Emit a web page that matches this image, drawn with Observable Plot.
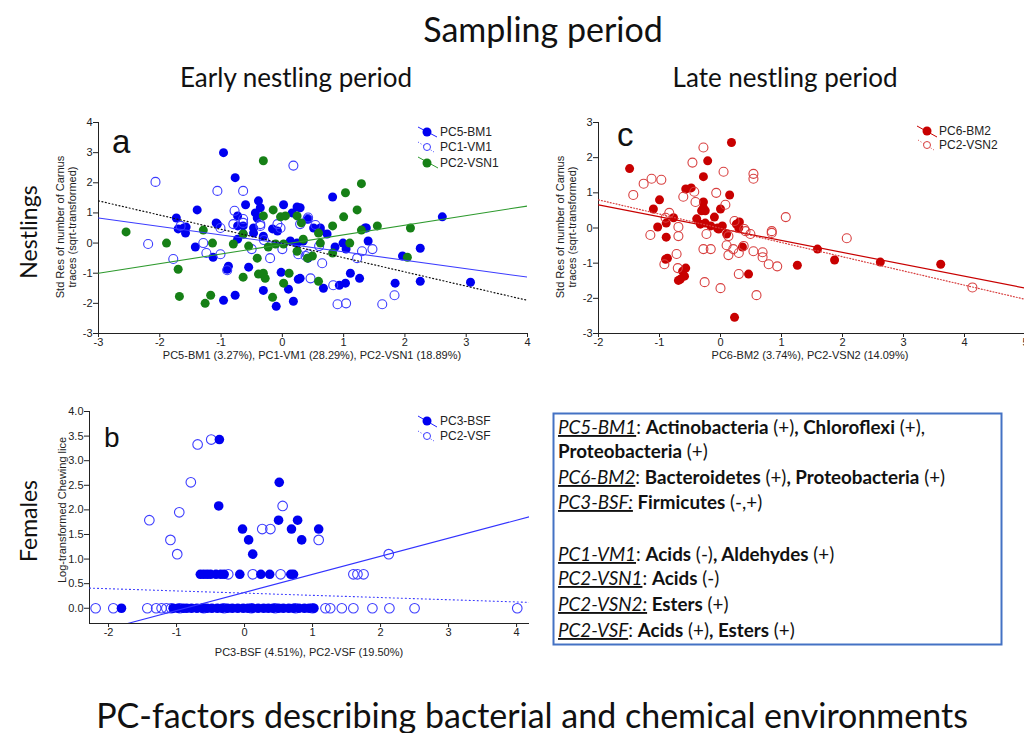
<!DOCTYPE html>
<html><head><meta charset="utf-8">
<script src="https://cdn.jsdelivr.net/npm/d3@7"></script>
<script src="https://cdn.jsdelivr.net/npm/@observablehq/plot@0.6"></script>
<style>
html,body{margin:0;padding:0;background:#fff;}
#page{position:relative;width:1024px;height:733px;overflow:hidden;background:#fff;}
.panel{position:absolute;width:520px;}
.panel svg{max-width:none !important;}
#overlay{position:absolute;left:0;top:0;pointer-events:none;}
.ttl{font-family:Lato,'Open Sans',sans-serif;fill:#111;}
.ax{font-family:'Liberation Sans',Arial,sans-serif;fill:#222;font-size:11px;}
.lg{font-family:'Liberation Sans',Arial,sans-serif;fill:#222;font-size:12px;}
.bx{font-family:Lato,sans-serif;font-size:18.8px;fill:#111;}
.pc{font-style:italic;text-decoration:underline;}
.b{font-weight:bold;}
</style></head><body>
<div id="page">
<div id="pa" class="panel" style="left:40px;top:100px"></div>
<div id="pc" class="panel" style="left:540px;top:100px"></div>
<div id="pb" class="panel" style="left:30px;top:390px"></div>
<svg id="overlay" width="1024" height="733">
  <text class="ttl" x="543" y="42" text-anchor="middle" font-size="34">Sampling period</text>
  <text class="ttl" x="296" y="87" text-anchor="middle" font-size="26">Early nestling period</text>
  <text class="ttl" x="785" y="87" text-anchor="middle" font-size="26">Late nestling period</text>
  <text class="ttl" transform="translate(37,232) rotate(-90)" text-anchor="middle" font-size="23">Nestlings</text>
  <text class="ttl" transform="translate(37,521) rotate(-90)" text-anchor="middle" font-size="23">Females</text>
  <text class="ttl" x="532" y="728" text-anchor="middle" font-size="34">PC-factors describing bacterial and chemical environments</text>

  <text class="ax" transform="translate(64,227) rotate(-90)" text-anchor="middle">Std Res of number of Carnus</text>
  <text class="ax" transform="translate(76,227) rotate(-90)" text-anchor="middle">traces (sqrt-transformed)</text>
  <text class="ax" transform="translate(564,227) rotate(-90)" text-anchor="middle">Std Res of number of Carnus</text>
  <text class="ax" transform="translate(576,227) rotate(-90)" text-anchor="middle">traces (sqrt-transformed)</text>
  <text class="ax" transform="translate(66,510) rotate(-90)" text-anchor="middle">Log-transformed Chewing lice</text>
  <text class="ax" x="312" y="359" text-anchor="middle" font-size="10.5">PC5-BM1 (3.27%), PC1-VM1 (28.29%), PC2-VSN1 (18.89%)</text>
  <text class="ax" x="810" y="359" text-anchor="middle" font-size="10.5">PC6-BM2 (3.74%), PC2-VSN2 (14.09%)</text>
  <text class="ax" x="309" y="656" text-anchor="middle" font-size="10.5">PC3-BSF (4.51%), PC2-VSF (19.50%)</text>

  <text font-family="'Liberation Sans',Arial" font-size="33" x="112" y="153" fill="#111">a</text>
  <text font-family="'Liberation Sans',Arial" font-size="33" x="617" y="146" fill="#111">c</text>
  <text font-family="'Liberation Sans',Arial" font-size="28" x="104" y="447" fill="#111">b</text>

  <!-- legend a -->
  <line x1="418" y1="127" x2="437" y2="137" stroke="#2020ff" stroke-width="1"/>
  <circle cx="427" cy="132" r="4.5" fill="#0000f0"/>
  <text class="lg" x="440" y="136">PC5-BM1</text>
  <line x1="418" y1="142" x2="434" y2="152" stroke="#3c3cff" stroke-width="1" stroke-dasharray="1 2"/>
  <circle cx="427" cy="147" r="3.5" fill="#fff" stroke="#3c3cff" stroke-width="1"/>
  <text class="lg" x="440" y="151">PC1-VM1</text>
  <line x1="418" y1="157" x2="438" y2="168" stroke="#2e9a2e" stroke-width="1"/>
  <circle cx="427" cy="163" r="4.5" fill="#168016"/>
  <text class="lg" x="440" y="167">PC2-VSN1</text>
  <!-- legend c -->
  <line x1="917" y1="126" x2="937" y2="137" stroke="#c80000" stroke-width="1"/>
  <circle cx="927" cy="131" r="4.5" fill="#c80000"/>
  <text class="lg" x="939" y="135">PC6-BM2</text>
  <line x1="918" y1="140" x2="934" y2="150" stroke="#d84040" stroke-width="1" stroke-dasharray="1 2"/>
  <circle cx="927" cy="145" r="3.5" fill="#fff" stroke="#d84040" stroke-width="1"/>
  <text class="lg" x="939" y="149">PC2-VSN2</text>
  <!-- legend b -->
  <line x1="418" y1="416" x2="437" y2="427" stroke="#2020ff" stroke-width="1"/>
  <circle cx="427" cy="421" r="4.5" fill="#0000f0"/>
  <text class="lg" x="440" y="425">PC3-BSF</text>
  <line x1="418" y1="431" x2="434" y2="441" stroke="#3c3cff" stroke-width="1" stroke-dasharray="1 2"/>
  <circle cx="427" cy="436" r="3.5" fill="#fff" stroke="#3c3cff" stroke-width="1"/>
  <text class="lg" x="440" y="440">PC2-VSF</text>

  <!-- description box -->
  <rect x="553.5" y="413.5" width="448" height="231" fill="none" stroke="#4472c4" stroke-width="2"/>
  <text class="bx" x="558" y="434"><tspan class="pc">PC5-BM1</tspan>: <tspan class="b">Actinobacteria</tspan> (+)<tspan class="b">, Chloroflexi</tspan> (+),</text>
  <text class="bx" x="558" y="458"><tspan class="b">Proteobacteria</tspan> (+)</text>
  <text class="bx" x="558" y="484"><tspan class="pc">PC6-BM2</tspan>: <tspan class="b">Bacteroidetes</tspan> (+)<tspan class="b">, Proteobacteria</tspan> (+)</text>
  <text class="bx" x="558" y="509"><tspan class="pc">PC3-BSF:</tspan><tspan class="b"> Firmicutes</tspan> (-,+)</text>
  <text class="bx" x="558" y="561"><tspan class="pc">PC1-VM1</tspan>: <tspan class="b">Acids</tspan> (-)<tspan class="b">, Aldehydes</tspan> (+)</text>
  <text class="bx" x="558" y="585"><tspan class="pc">PC2-VSN1</tspan>: <tspan class="b">Acids</tspan> (-)</text>
  <text class="bx" x="558" y="611"><tspan class="pc">PC2-VSN2:</tspan><tspan class="b"> Esters</tspan> (+)</text>
  <text class="bx" x="558" y="637"><tspan class="pc">PC2-VSF</tspan>: <tspan class="b">Acids</tspan> (+)<tspan class="b">, Esters</tspan> (+)</text>
</svg>
</div>
<script>
// ---------- Panel a: early nestling period ----------
const a_xTicks = [-3,-2,-1,0,1,2,3,4];
const a_yTicks = [-3,-2,-1,0,1,2,3,4];
const a_BM1 = [[-0.96,3.0],[-0.77,2.17],[-1.39,1.1],[-1.73,0.83],[-1.57,0.53],[-1.08,0.67],[-0.6,1.27],[-0.39,1.4],[-0.36,1.17],[-0.44,1.0],[-0.73,0.9],[0.02,1.27],[0.16,1.0],[0.24,1.2],[0.82,1.53],[0.29,1.17],[1.35,0.5],[2.61,0.87],[0.62,0.5],[1.37,0.5],[1.40,0.07],[2.25,-0.17],[1.96,-0.43],[1.04,-0.2],[0.99,0.0],[0.86,-0.13],[0.62,0.4],[0.73,0.3],[0.51,0.5],[1.11,-1.0],[1.26,-1.17],[1.84,-1.33],[2.25,-1.27],[3.07,-1.3],[1.03,-1.33],[0.93,-1.4],[0.67,-1.5],[0.29,-1.17],[-0.96,-1.9],[-0.77,-1.73],[-1.7,0.47],[-1.58,0.33],[-1.61,0.5],[-1.42,-0.13],[-1.13,-0.47],[-0.88,-0.77],[-0.9,-0.87],[-0.55,-0.8],[-0.73,0.13],[-0.64,0.3],[-0.47,0.33],[-0.31,0.23],[-0.16,0.47],[-0.08,0.4],[0.13,0.07],[0.24,0.0],[0.34,0.07],[0.42,-0.5],[-0.02,-0.97],[0.1,-1.53],[0.26,-1.2],[-0.31,-1.57],[-0.1,-2.1],[0.18,-1.93],[-0.47,0.5],[-0.64,0.57],[-0.41,0.83],[-0.73,0.57],[0.42,0.8],[-1.06,0.63]];
const a_VM1 = [[0.18,2.57],[-2.07,2.03],[-1.06,1.73],[-0.64,1.73],[0.41,0.8],[0.54,0.6],[1.3,-0.27],[1.47,-0.2],[1.22,-0.5],[0.29,0.63],[0.42,-0.37],[0.65,-0.67],[1.83,-1.73],[1.63,-2.03],[0.9,-2.03],[1.04,-2.0],[0.83,-1.4],[0.46,-1.17],[-2.19,-0.03],[-1.78,-0.53],[-1.29,0.0],[-1.24,-0.33],[-1.01,-0.37],[-0.8,0.63],[-0.64,0.67],[-0.36,0.57],[-0.2,-0.5],[-0.03,0.5],[0.26,-0.37],[0.38,-0.43],[-0.78,1.07],[-0.64,0.8],[-0.08,0.63],[-0.36,0.63],[0.42,0.85],[-1.66,0.57],[-1.01,0.5],[-0.9,-0.9],[-0.3,0.1],[0.0,-0.2],[0.6,-0.1],[-0.5,-0.2]];
const a_VSN1 = [[-0.31,2.73],[-0.15,1.1],[-0.31,0.9],[-0.03,0.87],[0.05,0.9],[0.31,0.67],[1.03,1.67],[1.29,1.97],[1.22,1.1],[1.0,0.87],[0.82,0.57],[1.55,0.57],[2.09,0.5],[1.29,0.43],[2.04,-0.47],[0.59,0.33],[0.62,0.0],[0.49,-0.43],[0.41,-0.5],[0.82,-0.33],[0.59,-1.27],[-2.55,0.37],[-1.89,0.0],[-1.7,-0.87],[-1.68,-1.77],[-1.26,-2.0],[-1.17,-1.73],[-1.14,0.0],[-0.64,-1.13],[-0.41,-0.5],[-0.8,-0.03],[-0.55,-0.1],[-0.64,0.3],[-0.23,-0.13],[0.02,-0.03],[-0.11,-0.03],[0.34,0.13],[0.24,-0.27],[-0.39,-1.03],[-0.31,-1.0],[-0.28,-1.17],[0.11,-1.0],[0.02,-1.33],[-0.16,-1.8],[0.24,0.9],[-1.29,0.43],[1.1,0.0]];
const a_fitBM1 = [[-3,0.83],[4,-1.13]];
const a_fitVM1 = [[-3,1.4],[4,-1.9]];
const a_fitVSN1 = [[-3,-1.0],[4,1.23]];

// ---------- Panel c: late nestling period ----------
const c_xTicks = [-2,-1,0,1,2,3,4,5];
const c_yTicks = [-3,-2,-1,0,1,2,3];
const c_BM2 = [[-1.49,1.69],[-1.0,0.8],[-1.1,0.54],[-0.89,0.14],[-0.77,0.29],[-1.03,0.03],[0.18,2.43],[-0.21,1.91],[-0.28,1.46],[-0.57,1.11],[-0.48,1.14],[0.15,0.94],[-0.28,0.74],[-0.28,0.57],[-0.31,0.49],[-0.25,0.49],[0.0,0.54],[-0.1,0.31],[-0.39,0.26],[-0.33,0.11],[-0.25,0.14],[-0.16,0.06],[-0.05,0.0],[0.03,0.06],[0.26,0.11],[0.31,0.17],[-0.89,-0.26],[-0.03,-0.03],[0.1,-0.17],[0.3,0.0],[0.36,-0.54],[1.26,-1.06],[-0.87,-0.86],[-0.9,-0.89],[-0.57,-1.14],[-0.62,-1.23],[-0.59,-1.37],[-0.66,-1.46],[-0.69,-1.49],[0.46,-1.31],[0.23,-2.54],[1.59,-0.6],[1.87,-0.91],[2.62,-0.97],[3.61,-1.03]];
const c_VSN2 = [[-1.43,0.94],[-1.26,1.26],[-1.13,1.4],[-0.97,1.37],[-0.84,0.43],[-0.9,0.29],[-0.69,0.03],[-0.28,2.29],[-0.46,1.86],[0.05,1.6],[0.54,1.54],[0.54,1.4],[-0.43,1.03],[-0.61,0.89],[-0.07,1.0],[-0.41,0.74],[0.08,0.66],[0.23,0.2],[0.39,-0.03],[0.84,-0.09],[1.07,0.31],[-1.15,-0.2],[-0.69,-0.23],[-0.23,-0.17],[0.13,-0.23],[0.41,-0.09],[0.49,-0.17],[0.84,-0.14],[0.1,-0.49],[0.21,-0.6],[0.38,-0.51],[-0.28,-0.6],[-0.16,-0.6],[0.13,-0.77],[0.3,-0.71],[0.54,-0.66],[0.69,-0.69],[0.69,-0.83],[0.79,-1.03],[0.93,-1.09],[-0.72,-0.74],[-0.92,-1.03],[-0.7,-1.14],[-0.26,-1.54],[0.0,-1.71],[0.3,-1.31],[0.59,-1.91],[2.07,-0.29],[4.13,-1.69]];
const c_fitBM2 = [[-2,0.66],[5,-1.71]];
const c_fitVSN2 = [[-2,0.8],[5,-2.03]];

// ---------- Panel b: females ----------
const b_xTicks = [-2,-1,0,1,2,3,4];
const b_yTicks = [0,0.5,1,1.5,2,2.5,3,3.5,4];
const b_BSF = [[-1.81,0],[-1.05,0],[-0.98,0],[-0.9,0],[-0.85,0],[-0.78,0],[-0.7,0],[-0.62,0],[-0.55,0],[-0.48,0],[-0.4,0],[-0.33,0],[-0.25,0],[-0.18,0],[-0.1,0],[-0.02,0],[0.05,0],[0.12,0],[0.2,0],[0.28,0],[0.35,0],[0.42,0],[0.5,0],[0.57,0],[0.65,0],[0.72,0],[0.8,0],[0.88,0],[0.95,0],[1.02,0],
  [-0.65,0.69],[-0.6,0.69],[-0.55,0.69],[-0.5,0.69],[-0.42,0.69],[-0.35,0.69],[-0.3,0.69],[-0.07,0.69],[0.24,0.69],[0.37,0.69],[0.68,0.69],[0.72,0.69],
  [-0.37,3.43],[-0.38,2.08],[-0.03,1.61],[0.06,1.39],[0.12,1.1],[0.51,2.56],[0.5,1.79],[0.69,1.61],[0.78,1.79],[0.84,1.39],[1.09,1.61]];
const b_VSF = [[-2.19,0],[-1.93,0],[-1.43,0],[-1.3,0],[-1.22,0],[-1.15,0],[-1.08,0],[-0.95,0],[-0.6,0],[-0.3,0],[0.1,0],[0.45,0],[0.75,0],[1.0,0],[1.19,0],[1.26,0],[1.43,0],[1.6,0],[1.88,0],[2.13,0],[2.5,0],[4.01,0],
  [-0.24,0.69],[0.12,0.69],[0.53,0.69],[1.6,0.69],[1.66,0.69],[1.75,0.69],
  [-1.4,1.79],[-1.09,1.39],[-0.99,1.1],[-0.96,1.95],[-0.79,2.56],[-0.69,3.33],[-0.49,3.43],[0.26,1.61],[0.38,1.61],[0.56,2.08],[1.09,1.39],[2.12,1.1]];
const b_fitBSF = [[-1.72,-0.31],[4.19,1.86]];
const b_fitVSF = [[-2.28,0.41],[4.19,0.12]];

const X = d => d[0], Y = d => d[1];
const intFmt = d => String(d);

function panel(el, o) {
  const p = Plot.plot({
    width: o.width, height: o.height,
    marginLeft: o.m[0], marginRight: o.m[1], marginTop: o.m[2], marginBottom: o.m[3],
    style: {fontFamily: "'Liberation Sans', Arial, sans-serif", fontSize: "11px", color: "#222", background: "none", overflow: "visible", maxWidth: "none"},
    x: {domain: o.xDomain},
    y: {domain: o.yDomain},
    marks: [
      Plot.axisX(o.xTicks, {tickFormat: intFmt, tickSize: 4, tickPadding: 1, label: null}),
      Plot.axisY(o.yTicks, {tickFormat: o.yFmt, tickSize: 5, tickPadding: 1, label: null}),
      Plot.ruleY([o.yDomain[0]], {stroke: "#222"}),
      Plot.ruleX([o.xDomain[0]], {stroke: "#222"}),
      ...o.marks
    ]
  });
  p.style.maxWidth = "none";
  document.getElementById(el).appendChild(p);
}

panel("pa", {
  width: 500, height: 270, m: [58, 13, 22, 37],
  xDomain: [-3, 4], yDomain: [-3, 4], xTicks: a_xTicks, yTicks: a_yTicks, yFmt: intFmt,
  marks: [
    Plot.dot(a_BM1, {x: X, y: Y, r: 4.5, fill: "#0000f0"}),
    Plot.dot(a_VM1, {x: X, y: Y, r: 4.5, fill: "none", stroke: "#3c3cff", strokeWidth: 1.1}),
    Plot.dot(a_VSN1, {x: X, y: Y, r: 4.5, fill: "#168016"}),
    Plot.line(a_fitBM1, {x: X, y: Y, stroke: "#3c3cff", strokeWidth: 1.1, clip: true}),
    Plot.line(a_fitVM1, {x: X, y: Y, stroke: "#111", strokeWidth: 1.2, strokeDasharray: "1 2.5", clip: true}),
    Plot.line(a_fitVSN1, {x: X, y: Y, stroke: "#2e9a2e", strokeWidth: 1.1, clip: true})
  ]
});

panel("pc", {
  width: 500, height: 270, m: [58, 15, 22, 37],
  xDomain: [-2, 5], yDomain: [-3, 3], xTicks: c_xTicks, yTicks: c_yTicks, yFmt: intFmt,
  marks: [
    Plot.dot(c_BM2, {x: X, y: Y, r: 4.5, fill: "#c80000"}),
    Plot.dot(c_VSN2, {x: X, y: Y, r: 4.5, fill: "none", stroke: "#d84040", strokeWidth: 1.1}),
    Plot.line(c_fitBM2, {x: X, y: Y, stroke: "#c80000", strokeWidth: 1.2, clip: true}),
    Plot.line(c_fitVSN2, {x: X, y: Y, stroke: "#d84040", strokeWidth: 1.2, strokeDasharray: "1 2", clip: true})
  ]
});

panel("pb", {
  width: 510, height: 260, m: [59, 11, 21, 27],
  xDomain: [-2.28, 4.19], yDomain: [-0.31, 4.0], xTicks: b_xTicks, yTicks: b_yTicks, yFmt: d => d.toFixed(1),
  marks: [
    Plot.dot(b_VSF, {x: X, y: Y, r: 4.8, fill: "none", stroke: "#3c3cff", strokeWidth: 1.1}),
    Plot.dot(b_BSF, {x: X, y: Y, r: 4.8, fill: "#0000f0"}),
    Plot.line(b_fitBSF, {x: X, y: Y, stroke: "#3333ff", strokeWidth: 1.1, clip: true}),
    Plot.line(b_fitVSF, {x: X, y: Y, stroke: "#3c3cff", strokeWidth: 1.1, strokeDasharray: "1 3", clip: true})
  ]
});
</script>
</body></html>
